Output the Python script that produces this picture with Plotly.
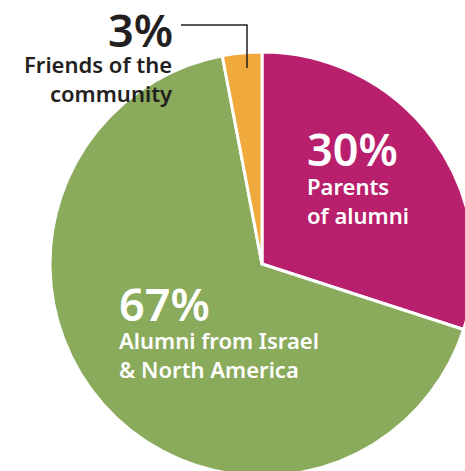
import plotly.graph_objects as go

# Data
labels = ["Parents of alumni", "Alumni from Israel & North America", "Friends of the community"]
values = [30, 67, 3]
colors = ["#B81F6D", "#8AAA5C", "#F0A93B"]
pct_text = ["30%", "67%", "3%"]
sub_text = ["Parents<br>of alumni", "Alumni from Israel<br>& North America", "Friends of the<br>community"]

W, H = 480, 480
FONT = "Noto Sans"
DARK = "#231F20"


def px(x):
    return x / W


def py(y):
    return 1 - y / H


fig = go.Figure(
    go.Pie(
        labels=labels,
        values=values,
        sort=False,
        direction="clockwise",
        rotation=0,
        textinfo="none",
        hoverinfo="label+percent",
        marker=dict(colors=colors, line=dict(color="white", width=3)),
        domain=dict(x=[px(50), px(474)], y=[py(476), py(52)]),
        showlegend=False,
    )
)

NUM = dict(size=45, family=FONT, weight=600)
LAB = dict(size=22, family=FONT, weight=600)

annotations = [
    # 30%
    dict(x=px(305), y=py(148), text=pct_text[0], xanchor="left", yanchor="middle",
         font=dict(color="white", **NUM), align="left"),
    dict(x=px(305), y=py(201), text=sub_text[0], xanchor="left", yanchor="middle",
         font=dict(color="white", **LAB), align="left"),
    # 67%
    dict(x=px(117), y=py(303), text=pct_text[1], xanchor="left", yanchor="middle",
         font=dict(color="white", **NUM), align="left"),
    dict(x=px(117), y=py(354), text=sub_text[1], xanchor="left", yanchor="middle",
         font=dict(color="white", **LAB), align="left"),
    # 3%
    dict(x=px(175), y=py(29), text=pct_text[2], xanchor="right", yanchor="middle",
         font=dict(color=DARK, **NUM), align="right"),
    dict(x=px(175), y=py(79), text=sub_text[2], xanchor="right", yanchor="middle",
         font=dict(color=DARK, **LAB), align="right"),
]
for a in annotations:
    a.update(xref="paper", yref="paper", showarrow=False)

fig.update_layout(
    width=W,
    height=H,
    margin=dict(l=0, r=0, t=0, b=0),
    paper_bgcolor="white",
    plot_bgcolor="white",
    annotations=annotations,
    shapes=[
        dict(type="path", xref="paper", yref="paper",
             path=f"M {px(181)} {py(25)} L {px(247)} {py(25)} L {px(247)} {py(68)}",
             line=dict(color=DARK, width=1.5)),
    ],
)

fig.write_html(
    "out.html",
    config={"displayModeBar": False},
    post_script="document.body.style.margin='0';document.body.style.overflow='hidden';document.documentElement.style.overflow='hidden';",
)
